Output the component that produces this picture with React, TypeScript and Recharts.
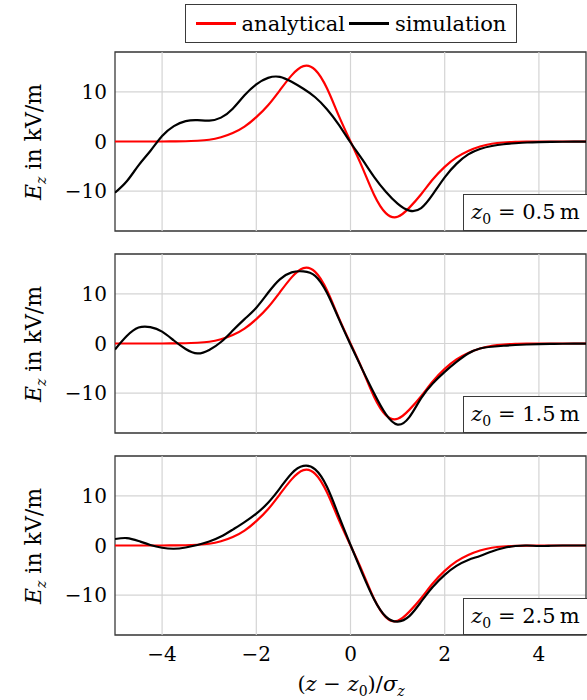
import React from 'react';
import {
  CartesianGrid,
  Line,
  LineChart,
  ReferenceArea,
  ReferenceLine,
  XAxis,
  YAxis,
} from 'recharts';

const FONT = '"DejaVu Serif", serif';
const GRID = '#d4d4d4';
const FRAME = '#3a3a3a';

// (z - z0)/sigma_z
const xs = [
  -5, -4.75, -4.5, -4.25, -4, -3.75, -3.5, -3.25, -3, -2.75, -2.5, -2.25, -2, -1.75, -1.5, -1.25, -1,
  -0.75, -0.5, -0.25, 0, 0.25, 0.5, 0.75, 1, 1.25, 1.5, 1.75, 2, 2.25, 2.5, 2.75, 3, 3.25, 3.5, 3.75,
  4, 4.25, 4.5, 4.75, 5,
];

// analytisch, gleiche Kurve in allen drei Panels
const analytical = [
  0, 0, 0, 0, 0, 0.02, 0.05, 0.15, 0.35, 0.85, 1.7, 3.0, 4.9, 7.3, 10.3, 13.3, 15.15, 14.4, 10.7,
  5.2, 0, -5.2, -10.7, -14.4, -15.15, -13.3, -10.6, -7.6, -5.1, -3.2, -1.9, -1.0, -0.45, -0.2,
  -0.08, -0.03, 0, 0, 0, 0, 0,
];

const simZ05 = [
  -10.3, -8.0, -4.8, -1.9, 1.1, 3.1, 4.1, 4.3, 4.2, 4.8, 6.6, 9.3, 11.5, 12.8, 13.0, 12.0, 10.6,
  8.9, 6.5, 3.4, -0.2, -3.6, -7.1, -10.1, -12.5, -13.9, -13.4, -10.6, -7.2, -4.5, -2.6, -1.5, -0.9,
  -0.55, -0.35, -0.2, -0.12, -0.08, -0.05, -0.03, -0.02,
];

const simZ15 = [
  -1.2, 1.5, 3.2, 3.3, 2.4, 0.6, -1.1, -2.0, -1.3, 0.3, 2.6, 4.9, 7.2, 10.2, 12.9, 14.3, 14.5, 13.6,
  10.2, 5.0, -0.2, -5.2, -10.0, -14.2, -16.3, -14.8, -11.0, -8.0, -5.7, -3.7, -2.0, -1.0, -0.65,
  -0.45, -0.3, -0.2, -0.12, -0.08, -0.05, -0.03, -0.02,
];

const simZ25 = [
  1.3, 1.5, 0.9, 0.1, -0.45, -0.65, -0.4, 0.1, 0.8, 1.8, 3.2, 4.7, 6.4, 8.6, 11.5, 14.5, 16.0, 15.3,
  11.8, 6.0, 0.1, -5.6, -10.8, -14.3, -15.3, -14.2, -11.3, -8.3, -5.9, -4.1, -2.9, -2.1, -1.2, -0.5,
  -0.1, 0, -0.1, -0.05, 0, 0, 0,
];

const xTicks = [-4, -2, 0, 2, 4];
const yTicks = [-10, 0, 10];
const panelLabels = ['0.5', '1.5', '2.5'];

const fmt = (v: number) => (v < 0 ? `\u2212${Math.abs(v)}` : `${v}`);

const PLOT_H = 179;
const panelTops = [52, 254, 456];

function Panel({ sim, showX }: { sim: number[]; showX: boolean }) {
  const data = xs.map((x, i) => ({ x, analytical: analytical[i], simulation: sim[i] }));
  const tick = { fontFamily: FONT, fontSize: 20, fill: '#000' };
  return (
    <LineChart
      width={587}
      height={PLOT_H + 2 + (showX ? 34 : 0)}
      data={data}
      margin={{ top: 1, right: 1, bottom: 1, left: 0 }}
    >
      <CartesianGrid stroke={GRID} strokeWidth={1.2} vertical={false} />
      {xTicks.map((t) => (
        <ReferenceLine key={t} x={t} stroke={GRID} strokeWidth={1.2} />
      ))}
      <XAxis
        dataKey="x"
        type="number"
        domain={[-5, 5]}
        ticks={xTicks}
        tickFormatter={fmt}
        tick={showX ? tick : false}
        tickLine={false}
        axisLine={false}
        tickMargin={6}
        height={showX ? 34 : 0}
        allowDataOverflow
      />
      <YAxis
        type="number"
        domain={[-18, 18]}
        ticks={yTicks}
        tickFormatter={fmt}
        tick={tick}
        tickLine={false}
        axisLine={false}
        width={115}
        allowDataOverflow
      />
      <Line
        dataKey="analytical"
        type="natural"
        stroke="#ff0000"
        strokeWidth={2.2}
        dot={false}
        isAnimationActive={false}
      />
      <Line
        dataKey="simulation"
        type="natural"
        stroke="#000000"
        strokeWidth={2.2}
        dot={false}
        isAnimationActive={false}
      />
      <ReferenceArea
        x1={-5}
        x2={5}
        y1={-18}
        y2={18}
        fill="none"
        fillOpacity={0}
        stroke={FRAME}
        strokeWidth={1.3}
        ifOverflow="visible"
      />
    </LineChart>
  );
}

function YLabel({ top }: { top: number }) {
  return (
    <div
      style={{
        position: 'absolute',
        left: 34 - 80,
        top: top + PLOT_H / 2 - 14,
        width: 160,
        height: 28,
        lineHeight: '28px',
        textAlign: 'center',
        fontSize: 22,
        transform: 'rotate(-90deg)',
        whiteSpace: 'nowrap',
      }}
    >
      <i>E</i>
      <sub style={{ fontSize: 14, fontStyle: 'italic' }}>z</sub> in kV/m
    </div>
  );
}

function Z0Box({ top, value }: { top: number; value: string }) {
  return (
    <div
      style={{
        position: 'absolute',
        left: 463,
        top: top + PLOT_H - 37,
        width: 124,
        height: 37,
        boxSizing: 'border-box',
        border: `1.3px solid ${FRAME}`,
        borderRight: 'none',
        background: '#fff',
        fontSize: 21,
        lineHeight: '34px',
        textAlign: 'center',
        whiteSpace: 'nowrap',
      }}
    >
      <i>z</i>
      <sub style={{ fontSize: 14 }}>0</sub> = {value}&#8201;m
    </div>
  );
}

export default function App() {
  const sims = [simZ05, simZ15, simZ25];
  return (
    <div
      style={{
        position: 'absolute',
        left: 0,
        top: 0,
        width: 587,
        height: 700,
        background: '#fff',
        fontFamily: FONT,
        color: '#000',
      }}
    >
      {/* Legende */}
      <div
        style={{
          position: 'absolute',
          left: 185,
          top: 4,
          width: 332,
          height: 39,
          boxSizing: 'border-box',
          border: `1.3px solid ${FRAME}`,
          display: 'flex',
          alignItems: 'center',
          justifyContent: 'center',
          fontSize: 21,
          whiteSpace: 'nowrap',
        }}
      >
        <span style={{ width: 40, height: 2.4, background: '#ff0000', marginRight: 6 }} />
        <span style={{ marginRight: 4 }}>analytical</span>
        <span style={{ width: 40, height: 2.4, background: '#000', marginRight: 6 }} />
        <span>simulation</span>
      </div>

      {sims.map((sim, i) => (
        <div key={i} style={{ position: 'absolute', left: 0, top: panelTops[i] - 1 }}>
          <Panel sim={sim} showX={i === 2} />
        </div>
      ))}
      {panelTops.map((t, i) => (
        <React.Fragment key={`lab-${i}`}>
          <YLabel top={t} />
          <Z0Box top={t} value={panelLabels[i]} />
        </React.Fragment>
      ))}

      {/* x-Achsenbeschriftung */}
      <div
        style={{
          position: 'absolute',
          left: 231,
          top: 672,
          width: 240,
          textAlign: 'center',
          fontSize: 21,
          whiteSpace: 'nowrap',
        }}
      >
        (<i>z</i> &minus; <i>z</i>
        <sub style={{ fontSize: 14 }}>0</sub>)/<i>&sigma;</i>
        <sub style={{ fontSize: 14, fontStyle: 'italic' }}>z</sub>
      </div>
    </div>
  );
}
